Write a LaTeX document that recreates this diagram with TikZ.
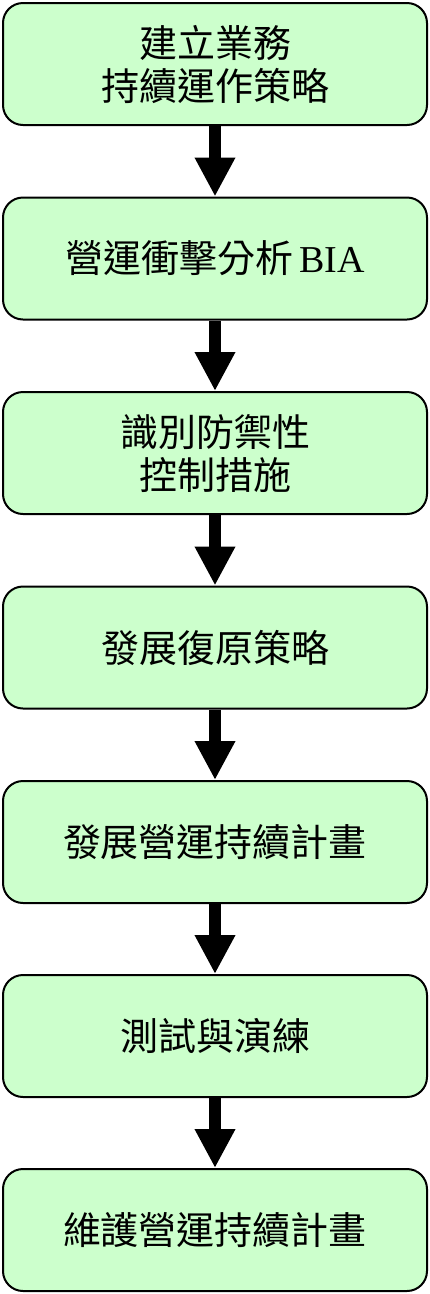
\documentclass[tikz,border=0pt]{standalone}
\usepackage{fontspec}
\setmainfont{Liberation Serif}
\newfontfamily\cjk{Noto Sans CJK TC}
\usetikzlibrary{arrows.meta}
\definecolor{boxgreen}{HTML}{CCFFCC}
\tikzset{
  stagebox/.style={draw=black, line width=2pt, fill=boxgreen, rounded corners=20pt,
    minimum width=424pt, minimum height=122pt, align=center,
    font=\cjk\fontsize{38}{43}\selectfont, inner sep=0pt},
  flowarrow/.style={line width=12pt, -{Triangle[width=38pt,length=39pt]}}
}
\begin{document}
\begin{tikzpicture}[x=1pt,y=-1pt]
\useasboundingbox (0,0) rectangle (429,1294);
\node[stagebox] (s1) at (215,64) {建立業務\\持續運作策略};
\node[stagebox] (s2) at (215,258.5) {營運衝擊分析\,{\rmfamily BIA}};
\node[stagebox] (s3) at (215,453) {識別防禦性\\控制措施};
\node[stagebox] (s4) at (215,647.5) {發展復原策略};
\node[stagebox] (s5) at (215,842) {發展營運持續計畫};
\node[stagebox] (s6) at (215,1036) {測試與演練};
\node[stagebox] (s7) at (215,1230) {維護營運持續計畫};
\foreach \a/\b in {s1/s2,s2/s3,s3/s4,s4/s5,s5/s6,s6/s7}
  \draw[flowarrow] (\a.south) -- (\b.north);
\end{tikzpicture}
\end{document}
